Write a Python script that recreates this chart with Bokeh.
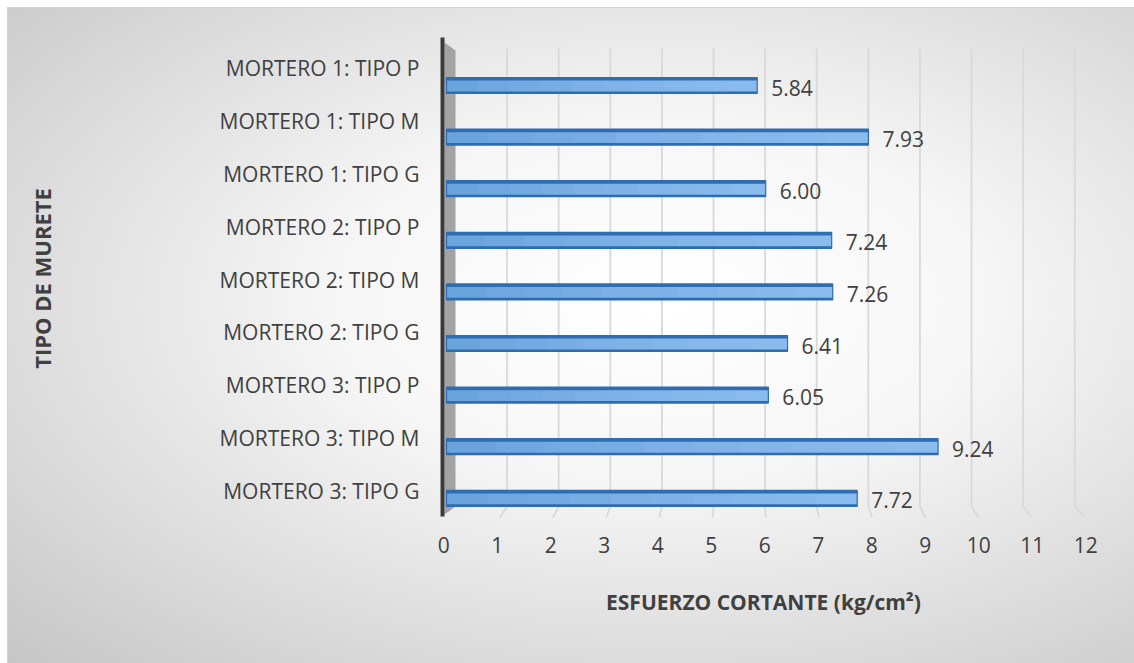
from bokeh.plotting import figure
from bokeh.models import Range1d, LinearAxis, FixedTicker, ColumnDataSource
from bokeh.core.properties import value
from bokeh.embed import file_html
from bokeh.resources import INLINE

# ---- data ----
categories = [
    "MORTERO 1: TIPO P", "MORTERO 1: TIPO M", "MORTERO 1: TIPO G",
    "MORTERO 2: TIPO P", "MORTERO 2: TIPO M", "MORTERO 2: TIPO G",
    "MORTERO 3: TIPO P", "MORTERO 3: TIPO M", "MORTERO 3: TIPO G",
]
esfuerzo = [5.84, 7.93, 6.00, 7.24, 7.26, 6.41, 6.05, 9.24, 7.72]
x_ticks = list(range(0, 13))
x_title = "ESFUERZO CORTANTE (kg/cm²)"
y_title = "TIPO DE MURETE"

n = len(categories)
ypos = [n - 1 - k for k in range(n)]  # top category highest
FONT = value("Open Sans")
TXT = "#404040"

bg = ("linear-gradient(#d4d4d4,#d4d4d4) 7px 7px / 100% 1px no-repeat, "
      "linear-gradient(#d4d4d4,#d4d4d4) 7px 7px / 1px 100% no-repeat, "
      "radial-gradient(ellipse farthest-corner at 58% 45%, #ffffff 0%, #f6f6f6 35%, #c6c6c6 100%) "
      "7px 7px / calc(100% - 7px) calc(100% - 7px) no-repeat, #ffffff")

p = figure(width=1134, height=663,
           x_range=Range1d(-0.188, 12.105), y_range=Range1d(-0.430, 8.950),
           output_backend="svg", toolbar_location=None,
           x_axis_location=None, y_axis_location=None,
           min_border_left=436, min_border_right=44,
           min_border_top=36, min_border_bottom=143,
           styles={"background": bg})
p.border_fill_color = None
p.background_fill_color = None
p.outline_line_color = None
p.xgrid.visible = False
p.ygrid.visible = False

# label ranges (3D perspective offset of the labels in the original)
p.extra_x_ranges = {"lab": Range1d(-0.136, 12.088)}
p.extra_y_ranges = {"lab": Range1d(-0.561, 8.606)}

xa = LinearAxis(x_range_name="lab", ticker=FixedTicker(ticks=x_ticks),
                axis_label=x_title)
ya = LinearAxis(y_range_name="lab", ticker=FixedTicker(ticks=ypos),
                major_label_overrides={yy: c for yy, c in zip(ypos, categories)},
                axis_label=y_title)
for ax in (xa, ya):
    ax.axis_line_color = None
    ax.major_tick_line_color = None
    ax.minor_tick_line_color = None
    ax.major_label_text_font = "Open Sans"
    ax.major_label_text_font_size = "21px"
    ax.major_label_text_color = TXT
    ax.axis_label_text_font = "Open Sans"
    ax.axis_label_text_font_style = "bold"
    ax.axis_label_text_color = TXT
xa.axis_label_text_font_size = "21px"
ya.axis_label_text_font_size = "22px"
xa.major_label_standoff = 10
xa.axis_label_standoff = 32
ya.major_label_standoff = 11
ya.axis_label_standoff = 160
p.add_layout(xa, "below")
p.add_layout(ya, "left")

# ---- 3D-ish gridlines (back plane + floor) ----
depth_x0, depth_scale = 0.169, 0.970
y_top, y_back, y_front = 8.717, -0.159, -0.372
gx_back = [depth_x0 + depth_scale * t for t in x_ticks[1:]]
gx_front = [float(t) for t in x_ticks[1:]]
p.segment(x0=gx_back, y0=[y_top] * len(gx_back), x1=gx_back, y1=[y_back] * len(gx_back),
          line_color="#d9d9d9", line_width=1.8)
p.segment(x0=gx_back, y0=[y_back] * len(gx_back), x1=gx_front, y1=[y_front] * len(gx_back),
          line_color="#d9d9d9", line_width=1.8)

# ---- left wall ----
p.patch(x=[-0.038, 0.169, 0.169, -0.038], y=[8.833, 8.678, -0.159, -0.314],
        fill_color="#a3a3a3", line_color=None)
p.segment(x0=[-0.075], y0=[8.93], x1=[-0.075], y1=[-0.353],
          line_color="#3a3a3a", line_width=4)

# ---- bars ----
bar_h = 0.31
src = ColumnDataSource(dict(
    y=ypos, v=esfuerzo,
    ytop=[y + bar_h / 2 - 0.03 for y in ypos], ybot=[y - bar_h / 2 + 0.02 for y in ypos],
    lab=[f"{v:.2f}" for v in esfuerzo]))
p.hbar(y="y", left=0, right="v", height=bar_h, source=src,
       fill_color="#6ba3dd", line_color=None)
# smooth left-to-right lightening of the bar body
steps = 10
for s in range(1, steps):
    frac = s / steps
    p.hbar(y=ypos, left=[frac * v for v in esfuerzo], right=esfuerzo, height=bar_h,
           fill_color="#a8d5fa", fill_alpha=0.09, line_color=None)
p.hbar(y="ytop", left=0, right="v", height=0.06, source=src,
       fill_color="#2f6db3", line_color=None)
p.hbar(y="ybot", left=0, right="v", height=0.04, source=src,
       fill_color="#2e6cb0", line_color=None)
p.hbar(y="y", left=0, right="v", height=bar_h, source=src,
       fill_color=None, line_color="#2e6db4", line_width=1.2)
p.text(x="v", y="y", text="lab", source=src, x_offset=14, y_offset=2,
       text_baseline="middle", text_align="left", text_font=FONT,
       text_font_size="21px", text_color=TXT)

open("out.html", "w").write(file_html(p, INLINE))
